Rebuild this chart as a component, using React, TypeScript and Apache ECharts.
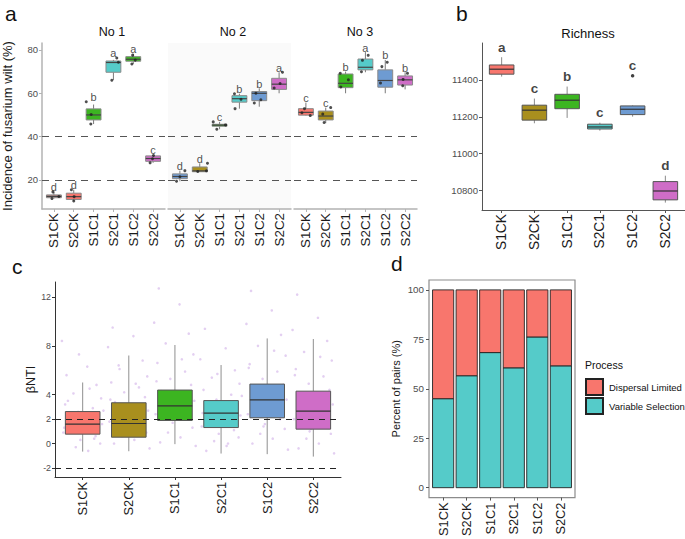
import React, { useEffect, useRef } from 'react';
import * as echarts from 'echarts';

const FONT = '"Liberation Sans", Arial, Helvetica, sans-serif';

const categories = ['S1CK', 'S2CK', 'S1C1', 'S2C1', 'S1C2', 'S2C2'];
const xPos = [1, 2, 3, 4, 5, 6];

// Panel a — incidence of fusarium wilt, boxes as [min, q1, median, q3, max]
const no1Boxes = [
  [11.4, 11.8, 12.4, 13.1, 14.5],
  [10.3, 11.0, 12.3, 13.9, 15.5],
  [45.8, 47.7, 50.0, 52.8, 54.8],
  [66.1, 69.7, 74.2, 74.9, 75.4],
  [73.5, 74.8, 75.7, 76.9, 78.2],
  [27.9, 28.6, 29.9, 31.1, 31.6],
];
const no2Boxes = [
  [19.4, 20.6, 21.6, 22.8, 24.3],
  [23.7, 23.8, 24.2, 26.0, 27.7],
  [43.4, 44.8, 45.3, 45.7, 46.8],
  [52.9, 55.9, 57.5, 58.9, 59.8],
  [53.8, 56.6, 60.0, 60.8, 62.3],
  [60.0, 61.8, 64.2, 66.9, 69.7],
];
const no3Boxes = [
  [49.7, 49.9, 51.2, 52.9, 55.7],
  [46.2, 47.7, 49.5, 51.8, 53.4],
  [60.0, 62.6, 64.6, 68.9, 70.0],
  [69.7, 70.8, 72.0, 75.8, 79.0],
  [60.0, 62.8, 65.9, 70.8, 75.4],
  [61.8, 63.8, 66.2, 68.0, 69.7],
];
const no1Points = [[14.5, 11.4, 12.4], [15.5, 12.3, 10.3], [56.1, 50.2, 45.8], [76.3, 74.3, 66.0], [77.6, 75.3, 73.5], [31.3, 29.8, 27.9]];
const no1Jitter = [[-0.05, -0.1, 0.25], [-0.12, 0.02, 0.0], [-0.37, -0.12, -0.14], [0.17, 0.25, -0.08], [-0.03, 0.1, -0.07], [0.02, -0.03, -0.15]];
const no2Points = [[24.3, 21.5, 19.4], [27.7, 24.2, 23.9], [46.8, 45.4, 43.4], [59.8, 57.2, 52.9], [60.0, 57.0, 55.5], [69.7, 64.5, 62.4]];
const no2Jitter = [[0.25, 0, -0.17], [0.39, 0.34, -0.1], [-0.32, 0.3, -0.14], [-0.25, 0.08, -0.22], [-0.17, 0.08, -0.25], [0.17, 0.05, -0.25]];
const no3Points = [[52.9, 51.0, 49.7], [53.4, 50.4, 46.5], [69.2, 66.2, 62.9], [77.5, 75.2, 69.9], [74.3, 72.3, 64.7], [69.2, 66.4, 63.5]];
const no3Jitter = [[-0.07, -0.2, 0.22], [0.25, -0.15, -0.08], [-0.27, 0.14, -0.24], [0.14, -0.15, -0.2], [0.1, -0.17, -0.24], [0.12, -0.1, -0.12]];
const no1Letters = ['d', 'd', 'b', 'a', 'a', 'c'];
const no2Letters = ['d', 'd', 'c', 'b', 'b', 'a'];
const no3Letters = ['c', 'c', 'b', 'a', 'b', 'b'];
const facetTitles = ['No 1', 'No 2', 'No 3'];
const incidenceTicks = [20, 40, 60, 80];
const incidenceRefLines = [20, 40];

// Panel b — richness
const richnessBoxes = [
  [11418, 11431, 11458, 11481, 11523],
  [11165, 11182, 11236, 11263, 11299],
  [11194, 11244, 11290, 11322, 11364],
  [11125, 11134, 11145, 11160, 11168],
  [11201, 11212, 11241, 11259, 11262],
  [10735, 10750, 10798, 10849, 10881],
];
const richnessOutliers = [[5, 11422]];
const richnessLetters = ['a', 'c', 'b', 'c', 'c', 'd'];
const richnessTicks = [10800, 11000, 11200, 11400];

// Panel c — βNTI
const bntiBoxes = [
  [-0.66, 0.77, 1.59, 2.62, 5.0],
  [-0.63, 0.52, 1.64, 3.34, 7.21],
  [-0.05, 1.89, 3.09, 4.38, 8.07],
  [-0.82, 1.31, 2.49, 3.52, 6.43],
  [-0.87, 2.11, 3.58, 4.87, 8.61],
  [-1.07, 1.18, 2.66, 4.29, 8.56],
];
const bntiJitterOffsets = [-0.35, 0.1, -0.45, 0.3, -0.2, 0.4, -0.38, 0.22, -0.1, 0.35, -0.3, 0.05, 0.42, -0.25, 0.18, -0.42, 0.28, -0.05, 0.38, -0.15, 0.12, -0.32, 0.45, -0.4, 0.25, -0.08, 0.15, -0.22];
const bntiJitterS1CK = [5.6, 6.3, 8.4, 4.8, 4.1, 3.7, 3.2, 2.9, 2.6, 2.3, 2.1, 1.9, 1.6, 1.4, 1.1, 0.9, 0.6, 0.3, 0.0, -0.3, -0.6, 3.5, 2.7, 1.3, 0.4, 7.3, 4.5, 1.8];
const bntiJitterS2CK = [9.5, 8.8, 7.9, 6.8, 6.1, 5.5, 5.0, 4.6, 4.2, 3.8, 3.4, 3.0, 2.7, 2.4, 2.1, 1.8, 1.5, 1.2, 0.9, 0.6, 0.3, 0.0, -0.4, 3.6, 2.2, 1.0, 4.9, 6.4];
const bntiJitterS1C1 = [12.7, 11.4, 9.9, 9.0, 8.2, 7.3, 6.6, 5.9, 5.3, 4.8, 4.3, 3.9, 3.5, 3.1, 2.7, 2.4, 2.0, 1.7, 1.3, 0.9, 0.5, 0.1, -0.2, 5.1, 3.3, 2.2, 6.9, 4.0];
const bntiJitterS2C1 = [9.4, 7.8, 6.9, 6.0, 5.4, 4.9, 4.4, 4.0, 3.6, 3.2, 2.9, 2.6, 2.3, 2.0, 1.7, 1.4, 1.1, 0.8, 0.5, 0.2, -0.2, -0.6, 3.9, 2.5, 1.5, 5.7, 0.0, 3.0];
const bntiJitterS1C2 = [12.5, 10.9, 9.8, 8.9, 8.0, 7.2, 6.5, 5.9, 5.3, 4.8, 4.4, 4.0, 3.6, 3.2, 2.8, 2.4, 2.0, 1.6, 1.2, 0.8, 0.4, 0.0, -0.5, 6.2, 3.4, 1.4, 7.6, 4.6];
const bntiJitterS2C2 = [12.2, 10.3, 9.3, 8.4, 7.5, 6.8, 6.1, 5.5, 4.9, 4.4, 4.0, 3.6, 3.2, 2.8, 2.4, 2.0, 1.6, 1.2, 0.8, 0.4, 0.0, -0.4, -0.8, 5.6, 2.6, 1.0, 7.1, 3.8];
const bntiJitter = [bntiJitterS1CK, bntiJitterS2CK, bntiJitterS1C1, bntiJitterS2C1, bntiJitterS1C2, bntiJitterS2C2];
const bntiTicks = [-2, 0, 2, 4, 8, 12];
const bntiRefLines = [2, -2];

// Panel d — percent of pairs
const variableSelection = [45.0, 56.6, 68.3, 60.6, 76.2, 61.6];
const dispersalLimited = [55.0, 43.4, 31.7, 39.4, 23.8, 38.4];
const percentTicks = [0, 25, 50, 75, 100];

const RED = '#F8766D';
const OLIVE = '#A98F1E';
const GREEN = '#3CB521';
const CYAN = '#55CBC9';
const BLUE = '#6E9BD2';
const MAGENTA = '#CF6DC7';
const stdColors = [RED, OLIVE, GREEN, CYAN, BLUE, MAGENTA];
const no1Colors = ['#C48C88', RED, GREEN, CYAN, GREEN, MAGENTA];
const no2Colors = [BLUE, OLIVE, GREEN, CYAN, BLUE, MAGENTA];
const no3Colors = stdColors;

const makeBoxRender = (colors: string[], stroke: string, whisker: string, median: string) =>
  (params: any, api: any) => {
    const x = api.value(0);
    const pts = [1, 2, 3, 4, 5].map((i) => api.coord([x, api.value(i)]));
    const cx = pts[0][0];
    const [yMin, yQ1, yMed, yQ3, yMax] = pts.map((p: number[]) => p[1]);
    const halfW = api.size([1, 0])[0] * 0.375;
    return {
      type: 'group',
      children: [
        { type: 'line', shape: { x1: cx, y1: yMin, x2: cx, y2: yQ1 }, style: { stroke: whisker, lineWidth: 1 } },
        { type: 'line', shape: { x1: cx, y1: yQ3, x2: cx, y2: yMax }, style: { stroke: whisker, lineWidth: 1 } },
        { type: 'rect', shape: { x: cx - halfW, y: yQ3, width: halfW * 2, height: yQ1 - yQ3 }, style: { fill: colors[params.dataIndex], stroke, lineWidth: 1 } },
        { type: 'line', shape: { x1: cx - halfW, y1: yMed, x2: cx + halfW, y2: yMed }, style: { stroke: median, lineWidth: 1.2 } },
      ],
    };
  };

const makeStackRender = (color: string) => (params: any, api: any) => {
  const x = api.value(0);
  const p0 = api.coord([x, api.value(1)]);
  const p1 = api.coord([x, api.value(2)]);
  const w = api.size([0.9, 0])[0];
  return {
    type: 'rect',
    shape: { x: p0[0] - w / 2, y: p1[1], width: w, height: p0[1] - p1[1] },
    style: { fill: color, stroke: '#222', lineWidth: 0.9 },
  };
};

const xAxisFor = (gridIndex: number, o: any) => ({
  type: 'value',
  gridIndex,
  min: 0.4,
  max: 6.6,
  splitLine: { show: false },
  axisLine: { show: o.line !== false, onZero: false, lineStyle: { color: o.lineColor || '#333', width: o.lineWidth || 1 } },
  axisTick: { show: true, customValues: xPos, length: 3, lineStyle: { color: o.tickColor || o.lineColor || '#333' } },
  axisLabel: {
    customValues: xPos,
    rotate: 90,
    margin: o.margin,
    fontSize: o.fontSize,
    fontFamily: FONT,
    color: '#1a1a1a',
    formatter: (v: number) => categories[Math.round(v) - 1] ?? '',
  },
});

function buildOption() {
  const facets = [
    { boxes: no1Boxes, points: no1Points, jitter: no1Jitter, letters: no1Letters, colors: no1Colors },
    { boxes: no2Boxes, points: no2Points, jitter: no2Jitter, letters: no2Letters, colors: no2Colors },
    { boxes: no3Boxes, points: no3Points, jitter: no3Jitter, letters: no3Letters, colors: no3Colors },
  ];
  const aLine = '#B3B3B3';
  const grid: any[] = [
    { left: 42, top: 43, width: 123, height: 166 },
    { left: 168, top: 43, width: 123, height: 166, show: true, backgroundColor: '#FAFAFA', borderWidth: 0 },
    { left: 294, top: 43, width: 123, height: 166 },
    { left: 482, top: 43, width: 203, height: 167 },
    { left: 55, top: 282, width: 286, height: 195 },
    { left: 429, top: 280, width: 146, height: 218, show: true, borderColor: '#8C8C8C', borderWidth: 1.2, backgroundColor: 'transparent' },
  ];
  const xAxis: any[] = [
    xAxisFor(0, { lineColor: aLine, lineWidth: 1.5, margin: 4, fontSize: 13.4 }),
    xAxisFor(1, { lineColor: aLine, lineWidth: 1.5, margin: 4, fontSize: 13.4 }),
    xAxisFor(2, { lineColor: aLine, lineWidth: 1.5, margin: 4, fontSize: 13.4 }),
    xAxisFor(3, { lineColor: '#555', lineWidth: 1, margin: 4, fontSize: 13.8 }),
    xAxisFor(4, { lineColor: '#333', lineWidth: 1, margin: 5, fontSize: 12.8 }),
    xAxisFor(5, { line: false, tickColor: '#555', margin: 5, fontSize: 12.8 }),
  ];
  const yLabel = (fontSize: number, margin: number, values: number[]) => ({
    customValues: values, fontSize, margin, color: '#4D4D4D', fontFamily: FONT,
    formatter: (v: number) => String(v),
  });
  const yAxis: any[] = [
    {
      type: 'value', gridIndex: 0, min: 6.6, max: 83.2, splitLine: { show: false },
      axisLine: { show: true, onZero: false, lineStyle: { color: aLine, width: 1.5 } },
      axisTick: { show: true, customValues: incidenceTicks, length: 3, lineStyle: { color: aLine } },
      axisLabel: yLabel(9.5, 4, incidenceTicks),
      name: 'Incidence of fusarium wilt (%)', nameLocation: 'middle', nameGap: 28,
      nameTextStyle: { fontSize: 13, color: '#1a1a1a', fontFamily: FONT },
    },
    { type: 'value', gridIndex: 1, min: 6.6, max: 83.2, show: false },
    { type: 'value', gridIndex: 2, min: 6.6, max: 83.2, show: false },
    {
      type: 'value', gridIndex: 3, min: 10695, max: 11600, splitLine: { show: false },
      axisLine: { show: true, onZero: false, lineStyle: { color: '#555', width: 1 } },
      axisTick: { show: true, customValues: richnessTicks, length: 3, lineStyle: { color: '#555' } },
      axisLabel: yLabel(9.6, 4, richnessTicks),
    },
    {
      type: 'value', gridIndex: 4, min: -2.74, max: 13.23, splitLine: { show: false },
      axisLine: { show: true, onZero: false, lineStyle: { color: '#333', width: 1 } },
      axisTick: { show: true, customValues: bntiTicks, length: 3, lineStyle: { color: '#333' } },
      axisLabel: yLabel(8.8, 4, bntiTicks),
      name: 'βNTI', nameLocation: 'middle', nameGap: 18,
      nameTextStyle: { fontSize: 12.5, color: '#1a1a1a', fontFamily: FONT },
    },
    {
      type: 'value', gridIndex: 5, min: -5, max: 105, splitLine: { show: false },
      axisLine: { show: false, onZero: false },
      axisTick: { show: true, customValues: percentTicks, length: 3, lineStyle: { color: '#555' } },
      axisLabel: yLabel(9.8, 5, percentTicks),
      name: 'Percent of pairs (%)', nameLocation: 'middle', nameGap: 28,
      nameTextStyle: { fontSize: 11, color: '#1a1a1a', fontFamily: FONT },
    },
  ];

  const series: any[] = [];
  facets.forEach((f, gi) => {
    series.push({
      type: 'custom', xAxisIndex: gi, yAxisIndex: gi, z: 2,
      renderItem: makeBoxRender(f.colors, '#8A8A8A', '#7A7A7A', '#444'),
      encode: { x: 0, y: [1, 2, 3, 4, 5] },
      data: f.boxes.map((b, i) => [xPos[i], ...b]),
      markLine: {
        silent: true, symbol: 'none', label: { show: false }, z: 1,
        lineStyle: { color: '#555', type: [7, 6], width: 1 },
        data: incidenceRefLines.map((v) => ({ yAxis: v })),
      },
    });
    const pts: number[][] = [];
    f.points.forEach((arr, i) => arr.forEach((v, j) => pts.push([xPos[i] + f.jitter[i][j], v])));
    series.push({
      type: 'scatter', xAxisIndex: gi, yAxisIndex: gi, z: 3, silent: true,
      symbolSize: 3, itemStyle: { color: '#222' }, data: pts,
    });
    series.push({
      type: 'scatter', xAxisIndex: gi, yAxisIndex: gi, z: 4, silent: true,
      symbolSize: 0.1, itemStyle: { color: 'transparent' },
      label: {
        show: true, position: 'top', distance: -1, fontSize: 11, color: '#222', fontFamily: FONT,
        formatter: (p: any) => f.letters[p.dataIndex],
      },
      data: f.boxes.map((b, i) => [xPos[i], Math.max(...b, ...f.points[i])]),
    });
  });

  // Panel b
  series.push({
    type: 'custom', xAxisIndex: 3, yAxisIndex: 3, z: 2,
    renderItem: makeBoxRender(stdColors, '#555', '#8A8A8A', '#333'),
    encode: { x: 0, y: [1, 2, 3, 4, 5] },
    data: richnessBoxes.map((b, i) => [xPos[i], ...b]),
  });
  series.push({
    type: 'scatter', xAxisIndex: 3, yAxisIndex: 3, z: 3, silent: true,
    symbolSize: 3.5, itemStyle: { color: '#111' }, data: richnessOutliers,
  });
  series.push({
    type: 'scatter', xAxisIndex: 3, yAxisIndex: 3, z: 4, silent: true,
    symbolSize: 0.1, itemStyle: { color: 'transparent' },
    label: {
      show: true, position: 'top', distance: 3, fontSize: 13.5, fontWeight: 'bold', color: '#111', fontFamily: FONT,
      formatter: (p: any) => richnessLetters[p.dataIndex],
    },
    data: richnessBoxes.map((b, i) => {
      const outs = richnessOutliers.filter((o) => o[0] === xPos[i]).map((o) => o[1]);
      return [xPos[i], Math.max(...b, ...outs)];
    }),
  });

  // Panel c
  const jit: number[][] = [];
  bntiJitter.forEach((arr, i) => arr.forEach((v, j) => jit.push([xPos[i] + bntiJitterOffsets[j], v])));
  series.push({
    type: 'scatter', xAxisIndex: 4, yAxisIndex: 4, z: 1, silent: true,
    symbolSize: 2.6, itemStyle: { color: '#DCC3EE' }, data: jit,
  });
  series.push({
    type: 'custom', xAxisIndex: 4, yAxisIndex: 4, z: 2,
    renderItem: makeBoxRender(stdColors, '#555', '#8F8F8F', '#333'),
    encode: { x: 0, y: [1, 2, 3, 4, 5] },
    data: bntiBoxes.map((b, i) => [xPos[i], ...b]),
    markLine: {
      silent: true, symbol: 'none', label: { show: false },
      lineStyle: { color: '#222', type: [6, 5], width: 1 },
      data: bntiRefLines.map((v) => ({ yAxis: v })),
    },
  });

  // Panel d — stacked bars drawn through the axes
  series.push({
    name: 'Variable Selection', type: 'custom', xAxisIndex: 5, yAxisIndex: 5,
    renderItem: makeStackRender(CYAN),
    itemStyle: { color: CYAN, borderColor: '#222', borderWidth: 1 },
    encode: { x: 0, y: [1, 2] },
    data: variableSelection.map((v, i) => [xPos[i], 0, v]),
  });
  series.push({
    name: 'Dispersal Limited', type: 'custom', xAxisIndex: 5, yAxisIndex: 5,
    renderItem: makeStackRender(RED),
    itemStyle: { color: RED, borderColor: '#222', borderWidth: 1 },
    encode: { x: 0, y: [1, 2] },
    data: dispersalLimited.map((v, i) => [xPos[i], variableSelection[i], variableSelection[i] + v]),
  });

  const txt = (text: string, x: number, y: number, fontSize: number, align = 'left', extra: any = {}) => ({
    type: 'text', x, y, silent: true,
    style: { text, fontSize, fontFamily: FONT, fill: '#111', align, verticalAlign: 'middle', ...extra },
  });

  return {
    animation: false,
    backgroundColor: '#ffffff',
    textStyle: { fontFamily: FONT },
    grid, xAxis, yAxis, series,
    legend: {
      data: ['Dispersal Limited', 'Variable Selection'],
      orient: 'vertical', left: 585, top: 378, padding: 0, itemWidth: 17, itemHeight: 16, itemGap: 1,
      icon: 'rect', selectedMode: false,
      textStyle: { fontSize: 9.5, color: '#111', fontFamily: FONT, padding: [0, 0, 0, 1] },
    },
    graphic: [
      txt('a', 5, 13, 21),
      txt('b', 456, 13, 21),
      txt('c', 12, 266, 21),
      txt('d', 391, 263, 21),
      txt(facetTitles[0], 112, 32, 12.5, 'center'),
      txt(facetTitles[1], 233, 32, 12.5, 'center'),
      txt(facetTitles[2], 360, 32, 12.5, 'center'),
      txt('Richness', 588, 33, 13, 'center'),
      txt('Process', 585, 365, 10.5),
    ],
  };
}

export default function App() {
  const ref = useRef<HTMLDivElement>(null);
  useEffect(() => {
    document.body.style.margin = '0';
    const chart = echarts.init(ref.current!, null, { renderer: 'svg' });
    chart.setOption(buildOption() as any);
    return () => chart.dispose();
  }, []);
  return <div ref={ref} style={{ width: 685, height: 539 }} />;
}
